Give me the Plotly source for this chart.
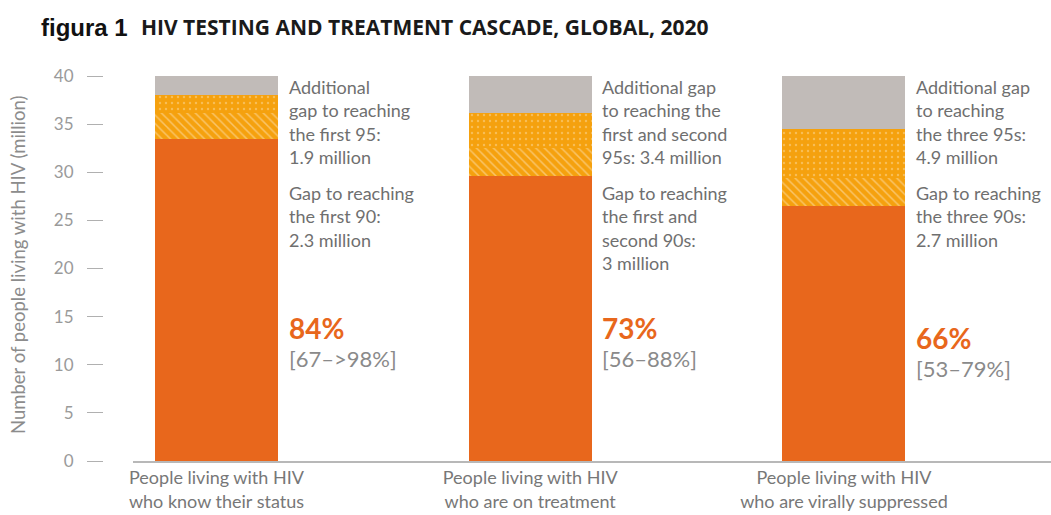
import plotly.graph_objects as go

# ---------------- data ----------------
categories = [
    "People living with HIV<br>who know their status",
    "People living with HIV<br>who are on treatment",
    "People living with HIV<br>who are virally suppressed",
]
achieved = [33.5, 29.6, 26.5]        # solid orange
gap_90 = [2.7, 2.95, 2.95]           # hatched
gap_95 = [1.85, 3.65, 5.0]           # dotted
remainder = [1.95, 3.8, 5.55]        # grey
pct_labels = ["84%", "73%", "66%"]
pct_ranges = ["[67–>98%]", "[56–88%]", "[53–79%]"]
gap95_text = [
    "Additional<br>gap to reaching<br>the first 95:<br>1.9 million",
    "Additional gap<br>to reaching the<br>first and second<br>95s: 3.4 million",
    "Additional gap<br>to reaching<br>the three 95s:<br>4.9 million",
]
gap90_text = [
    "Gap to reaching<br>the first 90:<br>2.3 million",
    "Gap to reaching<br>the first and<br>second 90s:<br>3 million",
    "Gap to reaching<br>the three 90s:<br>2.7 million",
]
y_ticks = [0, 5, 10, 15, 20, 25, 30, 35, 40]

# ---------------- styling ----------------
W, H = 1051, 515
ML, MR, MT, MB = 103, 0, 76, 54
PW = W - ML - MR
PH = H - MT - MB
ORANGE = "#E8671C"
AMBER = "#F5A10E"
GREY = "#C1BBB8"
TXT = "#6f6f6f"
FONT = "Lato, 'Open Sans', sans-serif"

def px(x):
    return (x - ML) / PW

def py(y):
    return (H - MB - y) / PH

x = list(range(len(categories)))
bw = 0.392

fig = go.Figure()
fig.add_trace(go.Bar(x=x, y=achieved, width=bw, marker=dict(color=ORANGE, line=dict(width=0))))
fig.add_trace(go.Bar(x=x, y=gap_90, width=bw, marker=dict(
    color=AMBER, line=dict(width=0),
    pattern=dict(shape="\\", fgcolor="rgba(255,255,255,0.75)", size=6, solidity=0.25, fillmode="overlay"))))
fig.add_trace(go.Bar(x=x, y=gap_95, width=bw, marker=dict(
    color=AMBER, line=dict(width=0),
    pattern=dict(shape=".", fgcolor="rgba(255,255,255,0.6)", size=6, solidity=0.12, fillmode="overlay"))))
fig.add_trace(go.Bar(x=x, y=remainder, width=bw, marker=dict(color=GREY, line=dict(width=0))))

annotations = []
for i in x:
    tx = i + bw / 2 + 0.028
    annotations.append(dict(x=tx, y=py(74), xref="x", yref="paper", text=gap95_text[i], showarrow=False,
                            xanchor="left", yanchor="top", align="left",
                            font=dict(family=FONT, size=18, color=TXT)))
    annotations.append(dict(x=tx, y=py(180), xref="x", yref="paper", text=gap90_text[i], showarrow=False,
                            xanchor="left", yanchor="top", align="left",
                            font=dict(family=FONT, size=18, color=TXT)))
    off = 10 if i == 2 else 0
    annotations.append(dict(x=tx, y=py(328 + off), xref="x", yref="paper", text="<b>" + pct_labels[i] + "</b>",
                            showarrow=False, xanchor="left", yanchor="middle",
                            font=dict(family=FONT, size=28, color=ORANGE)))
    annotations.append(dict(x=tx, y=py(358 + off), xref="x", yref="paper", text=pct_ranges[i],
                            showarrow=False, xanchor="left", yanchor="middle",
                            font=dict(family=FONT, size=22, color="#8a8a8a")))

annotations.append(dict(x=px(39), y=py(27), xref="paper", yref="paper", text="<b>figura 1</b>",
                        showarrow=False, xanchor="left", yanchor="middle",
                        font=dict(family="'Liberation Sans Narrow', 'Arial Narrow', sans-serif", size=24, color="#111")))
annotations.append(dict(x=px(139), y=py(27), xref="paper", yref="paper",
                        text="<b>HIV TESTING AND TREATMENT CASCADE, GLOBAL, 2020</b>",
                        showarrow=False, xanchor="left", yanchor="middle",
                        font=dict(family="'Open Sans', sans-serif", size=21, color="#1a1a1a")))
annotations.append(dict(x=px(18), y=py(265), xref="paper", yref="paper",
                        text="Number of people living with HIV (million)", textangle=-90,
                        showarrow=False, xanchor="center", yanchor="middle",
                        font=dict(family=FONT, size=18.5, color="#8c8c8c")))

fig.update_layout(
    width=W, height=H, barmode="stack", showlegend=False,
    margin=dict(l=ML, r=MR, t=MT, b=MB),
    paper_bgcolor="white", plot_bgcolor="white",
    bargap=0,
    xaxis=dict(domain=[px(133), 1], range=[-0.266, 2.66], tickvals=x, ticktext=categories,
               showline=True, linecolor="#b8b8b8", linewidth=1.5, ticks="", showgrid=False,
               zeroline=False, tickfont=dict(family=FONT, size=18, color="#777")),
    yaxis=dict(range=[0, 40], tickvals=y_ticks, anchor="free", position=0,
               ticks="outside", ticklen=16, tickcolor="#b0b0b0", tickwidth=1,
               ticklabelstandoff=10, showline=False, showgrid=False, zeroline=False,
               tickfont=dict(family=FONT, size=17, color="#9a9a9a")),
    annotations=annotations,
)

fig.write_html("out.html", config={"displayModeBar": False},
               post_script="document.body.style.margin='0';")
